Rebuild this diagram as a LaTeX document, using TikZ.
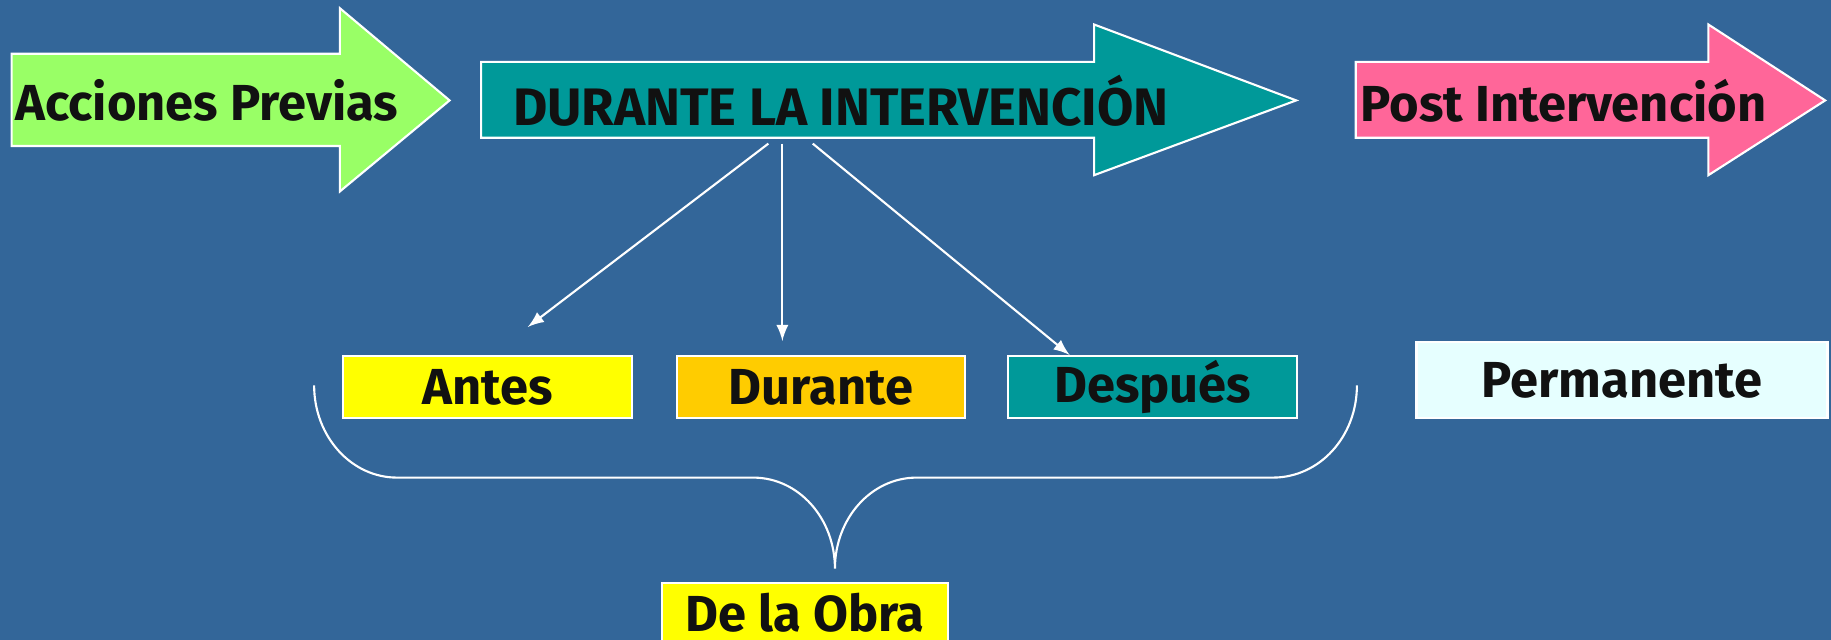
\documentclass[tikz,border=0pt]{standalone}
\usepackage{fontspec}
\setmainfont{Fira Sans}
\usepackage{tikz}
\usetikzlibrary{calc}
\definecolor{bgblue}{HTML}{336699}
\definecolor{previascol}{HTML}{99FF66}
\definecolor{tealcol}{HTML}{009999}
\definecolor{postcol}{HTML}{FF6699}
\definecolor{ambercol}{HTML}{FFCC00}
\definecolor{lemoncol}{HTML}{FFFF00}
\definecolor{icecol}{HTML}{E6FFFF}
\definecolor{ink}{HTML}{111111}
\newcommand\pxu{0.011677cm}
\tikzset{
  bigarrow/.style={draw=white,line width=0.6pt},
  lbl/.style={text=ink,font=\fontsize{14.4}{17}\selectfont\bfseries},
  box/.style={draw=white,line width=0.6pt,lbl,minimum width=247*\pxu,minimum height=53*\pxu,inner sep=0pt},
  conn/.style={white,line width=0.6pt,->,>=latex},
}
\begin{document}
\begin{tikzpicture}[x=\pxu,y=-\pxu]
            \fill[bgblue] (0,0) rectangle (1568,548);
            \useasboundingbox (0,0) rectangle (1568,548);

            % the three stages
            \draw[bigarrow,fill=previascol] (10,46)--(291,46)--(291,7)--(385,86)--(291,164)--(291,125)--(10,125)--cycle;
            \draw[bigarrow,fill=tealcol] (412,53)--(937,53)--(937,21)--(1110,86)--(937,150)--(937,118)--(412,118)--cycle;
            \draw[bigarrow,fill=postcol] (1161,53)--(1463,53)--(1463,21)--(1563,86)--(1463,150)--(1463,118)--(1161,118)--cycle;
            \node[lbl] (previas) at (177,86) {Acciones Previas};
            \node[lbl,font=\fontsize{15}{18}\selectfont\bfseries] (interv) at (720,86) {DURANTE LA INTERVENCIÓN};
            \node[lbl] (post) at (1339,86) {Post Intervención};

            % boxes
            \node[box,fill=lemoncol] (antes) at (417.5,331.5) {Antes};
            \node[box,fill=ambercol] (durante) at (703,331.5) {Durante};
            \node[box,fill=tealcol] (despues) at (987,331.5) {Después};
            \node[box,fill=icecol,minimum width=352*\pxu,minimum height=65*\pxu] (perm) at (1389,325.5) {Permanente};
            \node[box,fill=lemoncol,minimum width=245*\pxu,minimum height=52*\pxu] (obra) at (689.5,525) {De la Obra};

            \coordinate (s1) at (658,123);
            \coordinate (s2) at (670,123);
            \coordinate (s3) at (696,123);
            \coordinate (t1) at (452,280);
            \coordinate (t2) at (670,292);
            \coordinate (t3) at (916,304);
            \foreach \i in {1,2,3}
                \draw[conn] (s\i)--(t\i);

            % brace
            \draw[white,line width=0.6pt] (269,330) .. controls (269,374) and (301,409) .. (340,409) -- (645,409)
                .. controls (684,409) and (715,444) .. (715,487)
                .. controls (715,444) and (746,409) .. (785,409) -- (1090,409)
                .. controls (1130,409) and (1162,374) .. (1162,330);
        \end{tikzpicture}
\end{document}
